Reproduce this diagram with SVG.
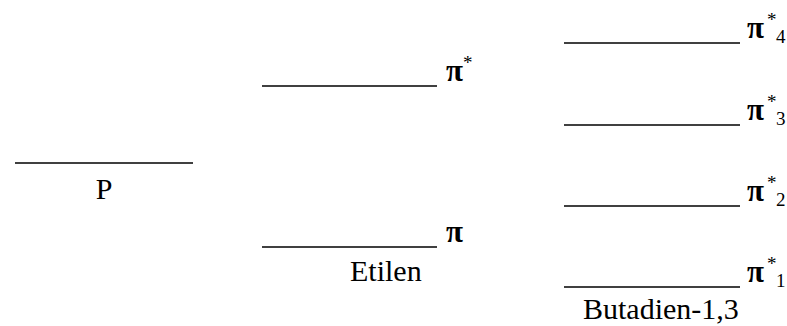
<svg xmlns="http://www.w3.org/2000/svg" width="787" height="326" viewBox="0 0 787 326">
<style>
.lvl{stroke:#000;stroke-width:1.5;fill:none}
text{font-family:'Liberation Serif','Times New Roman',serif;fill:#000}
.t{font-size:30px}
.pi{font-size:31px;font-weight:bold}
.sup{font-size:19px}
.sub{font-size:19px}
</style>
<rect width="787" height="326" fill="#fff"/>
<g id="P">
<line class="lvl" x1="15" y1="163" x2="193" y2="163"/>
<text class="t" x="104" y="199" text-anchor="middle">P</text>
</g>
<g id="etilen-pistar">
<line class="lvl" x1="262" y1="86" x2="437" y2="86"/>
<text class="pi" x="446" y="81">π</text>
<text class="sup" x="463" y="69">*</text>
</g>
<g id="etilen-pi">
<line class="lvl" x1="262" y1="247" x2="437" y2="247"/>
<text class="pi" x="446" y="242">π</text>
<text class="t" x="350" y="281">Etilen</text>
</g>
<g id="butadien-pi4">
<line class="lvl" x1="564" y1="43" x2="740" y2="43"/>
<text class="pi" x="747" y="38">π</text>
<text class="sup" x="767" y="26">*</text>
<text class="sub" x="776" y="43">4</text>
</g>
<g id="butadien-pi3">
<line class="lvl" x1="564" y1="125" x2="740" y2="125"/>
<text class="pi" x="747" y="120">π</text>
<text class="sup" x="767" y="108">*</text>
<text class="sub" x="776" y="125">3</text>
</g>
<g id="butadien-pi2">
<line class="lvl" x1="564" y1="206" x2="740" y2="206"/>
<text class="pi" x="747" y="201">π</text>
<text class="sup" x="767" y="189">*</text>
<text class="sub" x="776" y="206">2</text>
</g>
<g id="butadien-pi1">
<line class="lvl" x1="564" y1="287" x2="740" y2="287"/>
<text class="pi" x="747" y="282">π</text>
<text class="sup" x="767" y="270">*</text>
<text class="sub" x="776" y="287">1</text>
<text class="t" x="583" y="319">Butadien-1,3</text>
</g>
<g id="connectors"></g>
</svg>
